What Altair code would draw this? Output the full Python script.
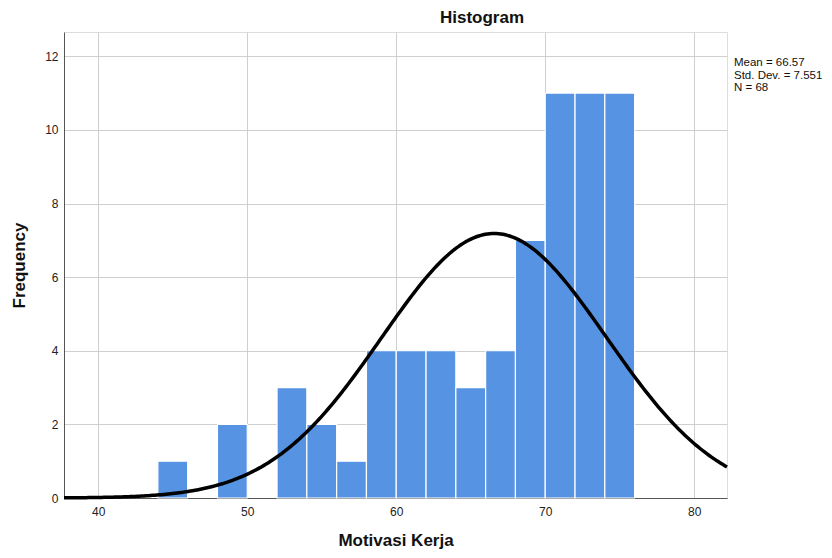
import altair as alt
import numpy as np
import pandas as pd

# Histogram bins (Motivasi Kerja), width 2
bin_start = [44, 48, 52, 54, 56, 58, 60, 62, 64, 66, 68, 70, 72, 74]
bin_end = [46, 50, 54, 56, 58, 60, 62, 64, 66, 68, 70, 72, 74, 76]
counts = [1, 2, 3, 2, 1, 4, 4, 4, 3, 4, 7, 11, 11, 11]

# Summary statistics shown on the chart
mean = 66.57
std = 7.551
n = 68
bin_width = 2

stats_text = ["Mean = 66.57", "Std. Dev. = 7.551", "N = 68"]
x_ticks = [40, 50, 60, 70, 80]
y_ticks = [0, 2, 4, 6, 8, 10, 12]

XMIN, XMAX = 37.7, 82.2
YMAX = 12.66
FONT = "Liberation Sans"

bars = pd.DataFrame({"start": bin_start, "end": bin_end, "count": counts})

xs = np.linspace(XMIN, XMAX, 300)
ys = n * bin_width * np.exp(-0.5 * ((xs - mean) / std) ** 2) / (std * np.sqrt(2 * np.pi))
curve = pd.DataFrame({"x": xs, "y": ys})

W, H = 663, 466

xscale = alt.Scale(domain=[XMIN, XMAX], nice=False, zero=False)
yscale = alt.Scale(domain=[0, YMAX], nice=False)

xaxis = alt.Axis(values=x_ticks, title="Motivasi Kerja", grid=True, gridColor="#cfcfcf",
                 domainColor="#555555", ticks=False, labelFont=FONT, labelFontSize=12,
                 labelColor="#222222", labelPadding=8, titleFont=FONT, titleFontSize=17,
                 titleFontWeight="bold", titleColor="#111111", titlePadding=15)
yaxis = alt.Axis(values=y_ticks, title="Frequency", grid=True, gridColor="#cfcfcf",
                 domainColor="#555555", ticks=False, labelFont=FONT, labelFontSize=12,
                 labelColor="#222222", labelPadding=6, titleFont=FONT, titleFontSize=17,
                 titleFontWeight="bold", titleColor="#111111", titlePadding=16)

bar_layer = alt.Chart(bars).mark_rect(color="#5693e3", stroke="white", strokeWidth=1.2).encode(
    x=alt.X("start:Q", scale=xscale, axis=xaxis),
    x2="end:Q",
    y=alt.Y("count:Q", scale=yscale, axis=yaxis),
    y2=alt.datum(0),
)

line_layer = alt.Chart(curve).mark_line(color="black", strokeWidth=3.5).encode(
    x=alt.X("x:Q", scale=xscale),
    y=alt.Y("y:Q", scale=yscale),
)

stats_layer = alt.Chart(pd.DataFrame({"a": [0]})).mark_text(
    text=stats_text, align="left", baseline="top", font=FONT, fontSize=11.5,
    lineHeight=12.5, color="#111111"
).encode(x=alt.value(670), y=alt.value(25))

title_layer = alt.Chart(pd.DataFrame({"a": [0]})).mark_text(
    text="Histogram", align="center", baseline="middle", font=FONT, fontSize=17,
    fontWeight="bold", color="#111111"
).encode(x=alt.value(418), y=alt.value(-14))

chart = alt.layer(bar_layer, line_layer, stats_layer, title_layer).properties(
    width=W, height=H,
    autosize=alt.AutoSizeParams(type="none"),
    padding={"left": 56, "top": 24, "right": 97, "bottom": 52},
).configure_view(stroke=None).configure(background="white")

chart.save("out.html", embed_options={"renderer": "svg", "actions": False})
